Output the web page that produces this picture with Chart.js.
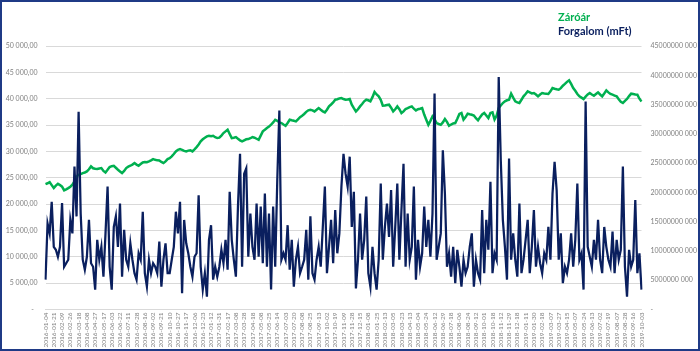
<!DOCTYPE html>
<html lang="hu">
<head>
<meta charset="utf-8">
<title>Záróár és forgalom</title>
<script src="https://cdn.jsdelivr.net/npm/chart.js"></script>
<style>
  html, body { margin: 0; padding: 0; background: #fff; }
  .wrap { position: relative; width: 700px; height: 351px; overflow: hidden; }
  canvas { display: block; }
  .frame { position: absolute; left: 0; top: 0; right: 0; bottom: 0; border: 2px solid #1f3a86; box-sizing: border-box; pointer-events: none; }
  .legend { position: absolute; left: 558px; top: 10px; font: bold 11px Lato, sans-serif; line-height: 14px; }
</style>
</head>
<body>
<div class="wrap">
  <canvas id="chart" width="700" height="351"></canvas>
  <div id="legend" class="legend"></div>
  <div class="frame"></div>
</div>
<script>
// tick dates shown on the x axis (every 4th sample)
const tickDates = [
  '2016-01-04','2016-01-21','2016-02-09','2016-02-26','2016-03-18','2016-04-08','2016-04-27','2016-05-17','2016-06-03','2016-06-22',
  '2016-07-11','2016-07-28','2016-08-16','2016-09-02','2016-09-21','2016-10-10','2016-10-27','2016-11-17','2016-12-06','2016-12-23',
  '2017-01-12','2017-01-31','2017-02-17','2017-03-08','2017-03-28','2017-04-18','2017-05-08','2017-05-25','2017-06-14','2017-07-03',
  '2017-07-20','2017-08-08','2017-08-25','2017-09-13','2017-10-02','2017-10-19','2017-11-09','2017-11-28','2017-12-15',
  '2018-01-08','2018-01-25','2018-02-13','2018-03-05','2018-03-23','2018-04-13','2018-05-04','2018-05-24','2018-06-12','2018-06-29',
  '2018-07-18','2018-08-06','2018-08-24','2018-09-12','2018-10-01','2018-10-18','2018-11-12','2018-11-29','2018-12-18',
  '2019-01-11','2019-01-30','2019-02-18','2019-03-07','2019-03-27','2019-04-15','2019-05-07','2019-05-24','2019-06-13','2019-07-02',
  '2019-07-19','2019-08-07','2019-08-28','2019-09-16','2019-10-03'
];
const samplesPerTick = 4;

// Záróár (left axis)
const closePrice = [
  23800,23950,24180,23600,23040,23500,23860,23600,23300,22600,
  22800,23040,23300,23670,24300,25250,25570,25700,25890,26000,
  26200,26600,27150,26800,26700,26650,26750,26840,26300,26010,
  26500,27020,27200,27280,26900,26520,26200,25890,26300,26840,
  27100,27280,27500,27780,27500,27280,27600,27910,28000,27950,
  28100,28300,28540,28400,28300,28290,28000,27780,28100,28540,
  28700,29050,29500,30000,30300,30440,30300,30100,30000,30150,
  30190,30000,30400,30820,31300,31900,32300,32600,32850,32970,
  32900,32970,32700,32530,32600,33000,33480,33800,34110,33300,
  32530,32600,32720,32400,32100,31900,32100,32300,32340,32500,
  32720,32600,32400,32210,33000,33800,34100,34430,34700,35060,
  35500,36010,35800,35500,35380,35100,34870,35400,36010,35900,
  35800,35700,36100,36500,36770,37100,37500,37800,37910,37800,
  37590,37900,38230,37900,37600,37410,37900,38540,38900,39300,
  39810,39900,40050,40130,39940,39810,39850,39940,38860,38200,
  37590,38000,38540,39000,39500,39810,39700,39490,40300,41270,
  40800,40450,39800,38670,38700,38800,38860,38300,37590,38000,
  38540,38000,37280,37600,38040,38200,38400,38540,38100,37780,
  38000,38100,38230,37000,36010,35060,35800,36640,36100,35380,
  35200,35060,35500,36140,35600,34870,35100,35300,35380,36200,
  37100,37280,36010,36500,37150,37050,36960,36800,36300,35890,
  36500,37000,37280,36800,36330,37300,37410,36050,36800,38230,
  38700,39180,39500,39700,39810,40950,40200,39490,39300,39180,
  39800,40450,40900,41390,41200,41000,41080,40800,40450,40800,
  41080,41000,40950,40890,41400,42020,41900,41800,41710,42000,
  42470,42800,43200,43480,42800,42020,41500,40900,40450,40200,
  39940,40400,40800,41080,40800,40570,40900,41200,40800,40450,
  41000,41580,41200,40900,40760,40600,40450,39900,39400,39180,
  39600,39940,40500,40950,40900,40800,40760,40000,39490
];

// Forgalom, in billions (right axis)
const turnoverBn = [
  5.1,14.7,13.0,18.4,10.7,10.2,9.0,10.7,18.2,7.3,
  7.9,8.5,15.3,13.0,24.4,15.9,33.75,16.4,8.5,6.8,
  9.0,15.3,7.9,7.3,3.4,11.9,8.5,10.7,5.6,13.0,
  21.0,7.3,3.4,14.1,15.9,10.7,18.1,5.6,13.6,8.5,
  7.3,11.3,8.5,6.2,5.1,9.6,8.5,16.7,6.2,3.9,
  8.5,6.2,7.9,7.3,6.2,11.6,3.9,8.5,11.3,6.2,
  6.2,8.5,10.7,16.7,13.0,18.4,2.8,15.3,11.3,9.6,
  7.3,5.6,9.0,9.6,19.5,7.3,3.4,6.2,2.2,11.9,
  14.4,5.1,7.3,5.6,7.3,10.2,7.9,11.9,6.8,20.1,
  11.9,8.5,5.6,17.6,26.6,7.3,23.2,24.1,9.0,16.4,
  10.7,8.5,18.1,9.0,17.6,7.9,19.8,7.3,16.4,3.4,
  17.6,7.3,22.1,34.0,8.5,9.6,8.5,14.4,6.8,11.9,
  3.9,8.5,10.7,6.2,7.3,8.5,13.6,5.1,15.9,6.2,
  5.1,8.5,10.7,7.3,14.1,21.0,6.2,10.7,15.3,7.9,
  17.0,9.6,13.0,21.0,26.6,23.2,21.0,26.1,14.1,20.1,
  3.6,8.5,16.4,8.5,11.9,19.3,6.2,3.9,10.7,6.2,
  3.4,8.5,21.5,8.5,14.1,18.1,12.4,20.4,7.3,14.1,
  21.5,8.5,17.0,24.9,7.3,16.4,8.5,10.7,21.0,5.1,
  11.9,7.3,9.6,17.6,10.7,15.3,9.0,16.4,36.9,8.5,
  10.7,13.0,27.2,19.8,7.3,9.6,5.6,10.7,4.5,10.2,
  7.3,3.9,8.5,6.2,7.3,10.7,13.0,3.9,8.5,6.2,
  5.1,17.0,6.2,15.3,10.2,21.8,6.2,9.6,8.5,39.7,
  25.5,15.3,10.7,5.1,25.8,8.5,13.0,8.5,5.6,18.1,
  6.2,8.5,11.9,15.3,6.2,10.7,17.0,7.3,10.7,7.9,
  6.2,9.6,8.5,14.1,8.5,19.8,25.2,20.4,8.5,13.0,
  4.5,7.3,6.2,8.5,13.0,7.3,11.9,21.5,8.5,9.6,
  3.4,35.5,10.7,9.0,7.3,11.9,8.5,15.3,8.5,6.2,
  14.1,10.7,8.5,7.3,13.3,6.2,11.9,8.5,10.2,24.4,
  7.3,2.2,10.2,7.3,8.5,18.7,6.2,9.6,3.4
];

const GREEN = '#00b050';
const NAVY = '#0a1f5e';
const GRID = '#d9d9d9';
const TICK = '#808080';

// only every 4th sample carries a date label
const xLabels = closePrice.map((_, i) => i % samplesPerTick === 0 ? tickDates[i / samplesPerTick] : '');

const leftFmt = (v) => {
  if (v === 0) return '-  ';
  return Math.round(v).toString().replace(/\B(?=(\d{3})+(?!\d))/g, ' ') + ',00';
};
const rightFmt = (v) => {
  if (v === 0) return '-';
  return (Math.round(v) * 1000000) + ' 000';
};

Chart.defaults.font.family = 'Lato';

const chart = new Chart(document.getElementById('chart'), {
  type: 'line',
  data: {
    labels: xLabels,
    datasets: [
      {
        label: 'Záróár',
        data: closePrice,
        yAxisID: 'y',
        borderColor: GREEN,
        borderWidth: 2.5,
        pointRadius: 0,
        tension: 0,
        order: 2,
      },
      {
        label: 'Forgalom (mFt)',
        data: turnoverBn,
        yAxisID: 'y1',
        borderColor: NAVY,
        borderWidth: 2.25,
        pointRadius: 0,
        tension: 0,
        order: 1,
      },
    ],
  },
  options: {
    responsive: false,
    animation: false,
    layout: { padding: { top: 46, left: 0, right: 0, bottom: 0 } },
    plugins: {
      legend: { display: false },
      tooltip: { enabled: false },
    },
    scales: {
      x: {
        grid: { display: false, drawTicks: false },
        border: { color: GRID },
        ticks: {
          autoSkip: false,
          minRotation: 90,
          maxRotation: 90,
          padding: 3,
          color: TICK,
          font: { size: 6.5 },
        },
        afterFit: (scale) => { scale.height = 41.5; },
      },
      y: {
        position: 'left',
        min: 0,
        max: 50000,
        grid: { color: GRID, drawTicks: false },
        border: { display: false },
        ticks: { stepSize: 5000, padding: 8, color: TICK, font: { size: 7 }, callback: leftFmt },
        afterFit: (scale) => { scale.width = 45.5; },
      },
      y1: {
        position: 'right',
        min: 0,
        max: 45,
        grid: { display: false, drawTicks: false },
        border: { display: false },
        ticks: { stepSize: 5, padding: 9, color: TICK, font: { size: 7 }, callback: rightFmt },
        afterFit: (scale) => { scale.width = 58.5; },
      },
    },
  },
});

// text-only legend, top right
document.getElementById('legend').innerHTML = chart.data.datasets
  .map(d => `<div style="color:${d.borderColor}">${d.label}</div>`)
  .join('');
</script>
</body>
</html>
